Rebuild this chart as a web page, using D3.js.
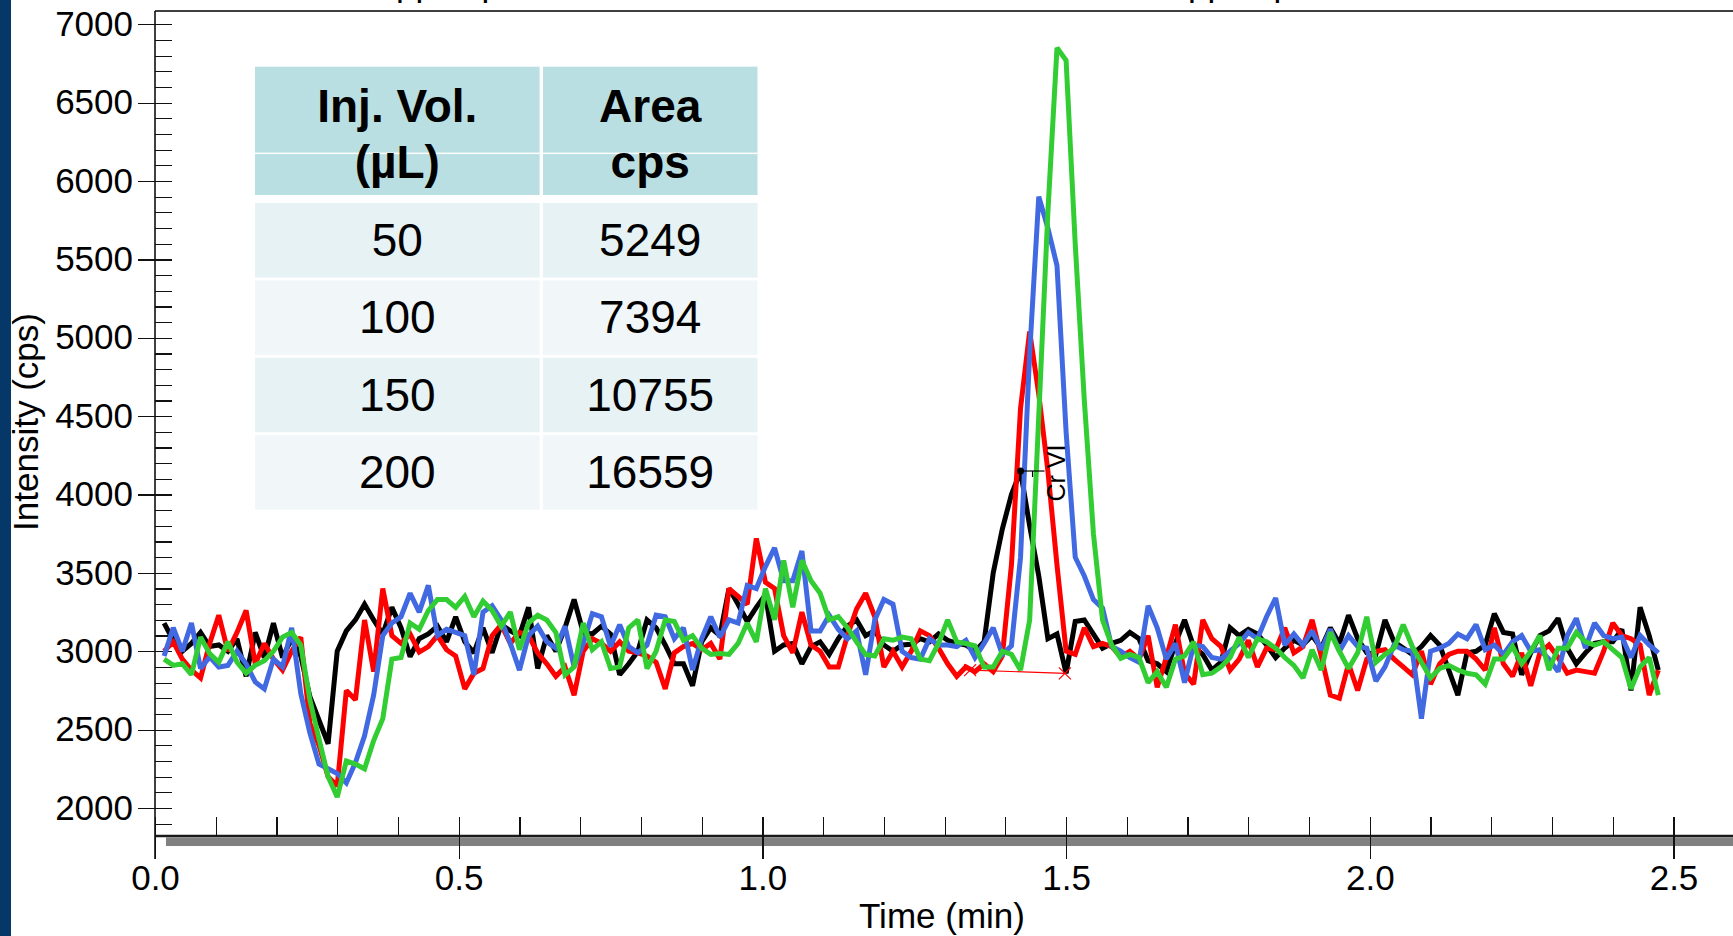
<!DOCTYPE html>
<html>
<head>
<meta charset="utf-8">
<script src="https://cdn.jsdelivr.net/npm/d3@7"></script>
<style>
  html, body { margin: 0; padding: 0; background: #fff; overflow: hidden; }
  svg { display: block; font-family: "Liberation Sans", Arial, sans-serif; }
</style>
</head>
<body>
<div class="chart"></div>
<script>
var svgWidth = 1733;
var svgHeight = 936;

// sampling grid of the chromatogram (min), one point every 0.015 min
var times = d3.range(1, 166).map(function(k) { return +(k * 0.015).toFixed(3); });

// intensity (cps) of each injection volume
var black50 = [
  3180, 3070, 3000, 3050, 3120, 3030, 3040, 3000, 3080, 2840,
  3120, 2960, 3180, 2960, 3080, 2970, 2710, 2560, 2410, 3000,
  3130, 3200, 3300, 3200, 3110, 3280, 3150, 2965, 3080, 3110,
  3160, 3060, 3220, 3060, 2990, 3150, 2990, 3170, 3130, 3100,
  3280, 2890, 3100, 3000, 3150, 3330, 3120, 3110, 3160, 3110,
  2850, 2920, 3000, 3200, 3150, 3040, 2920, 2920, 2780, 3060,
  3150, 3100, 3400, 3300, 3190, 3280, 3360, 3000, 3040, 3050,
  2920, 3030, 3060, 2980, 3080, 3160, 3200, 3100, 3130, 3040,
  3000, 3040, 3045, 3080, 3060, 3110, 3070, 3050, 3040, 3000,
  3060, 3500, 3780, 4000, 4150, 3800, 3480, 3080, 3110, 2860,
  3190, 3200, 3110, 3020, 3050, 3070, 3120, 3080, 2940, 2920,
  2870, 3050, 3200, 3030, 2980, 2880, 2930, 3150, 3100, 3140,
  3110, 3040, 2960, 3020, 3070, 3040, 3100, 3020, 3150, 3050,
  3230, 3080, 2990, 2980, 3200, 3060, 3020, 2980, 3030, 3100,
  3040, 2880, 2720, 2990, 3000, 3040, 3240, 3120, 3110, 2850,
  2990, 3100, 3130, 3210, 3020, 2920, 2990, 3050, 3060, 3060,
  3140, 2750, 3280, 3100, 2880
];
var red100 = [
  3000, 3060, 2950, 2880, 2830, 3050, 3230, 3000, 3120, 3260,
  2920, 3050, 2950, 2880, 3000, 3090, 2540, 2400, 2200, 2140,
  2750, 2690, 3200, 2870, 3400, 3100, 3050, 3110, 2995, 3030,
  3100, 3010, 2970, 2760, 2860, 2890, 3100, 3170, 3050, 3120,
  3100, 2990, 2920, 2840, 2900, 2720, 3000, 3080, 3050, 3000,
  3060, 3000, 2990, 2970, 2930, 2760, 2990, 3030, 3050, 3010,
  3050, 2950, 3400, 3350, 3300, 3720, 3440, 3400, 3100, 2990,
  3250, 3040, 3000, 2900, 2900, 3100, 3270, 3370, 3220, 2900,
  3000, 2900, 3000, 3130, 3100, 3020, 2920, 2840, 2900, 2870,
  2920, 2870, 2970, 3550, 4550, 5040, 4640, 4150, 3550, 3000,
  2980, 3150, 3030, 3050, 3030, 2965, 3000, 2950, 3100, 2770,
  2960, 3170, 2860, 2790, 3200, 3080, 3030, 2880, 2950, 3070,
  2900, 3020, 3010, 3150, 2990, 3030, 3200, 2970, 2720, 2700,
  2920, 2750, 2950, 3000, 3010, 2950, 2900, 2850, 3000, 2790,
  2920, 2980, 3000, 3000, 2950, 2880, 3150, 2920, 2840, 2990,
  2780, 2990, 3040, 2960, 2860, 2880, 2870, 2860, 3000, 3180,
  3100, 3080, 3040, 2720, 2880
];
var blue150 = [
  2970, 3150, 3000, 3180, 2890, 2964, 2900, 2910, 3000, 2920,
  2804, 2760, 2950, 2900, 3150, 2730, 2480, 2280, 2250, 2220,
  2160, 2290, 2460, 2720, 3100, 3180, 3220, 3370, 3250, 3420,
  3100, 3140, 3120, 3100, 2850, 3250, 3290, 3200, 3050, 2880,
  3100, 3160, 3060, 3020, 3160, 2900, 3050, 3240, 3220, 3030,
  3170, 3030, 2990, 3040, 3230, 3220, 3080, 3150, 2880, 3080,
  3220, 3090, 3200, 3180, 3420, 3400, 3540, 3660, 3450, 3450,
  3640, 3130, 3130, 3230, 3140, 3080, 3130, 2850, 3200, 3330,
  3300, 3000, 2960, 2950, 3080, 3040, 3040, 3030, 3070, 2960,
  3050, 3150, 2980, 3035, 3600, 4900, 5900, 5700, 5460, 4400,
  3600, 3480, 3330, 3275, 3030, 3000, 2960, 2930, 3290, 3150,
  2950, 3050, 2800, 3040, 3030, 2960, 2950, 3000, 3050, 3120,
  3080, 3220, 3340, 3040, 3110, 3040, 3130, 3010, 3140, 3000,
  3100, 3030, 3020, 2810, 2900, 3040, 3010, 3000, 2570, 3000,
  3020, 3050, 3110, 3080, 3170, 3010, 3040, 2980, 3060, 3100,
  3000, 3010, 2950, 2870, 3100, 3210, 3020, 3180, 3100, 3080,
  3090, 2960, 3100, 3040, 2990
];
var green200 = [
  2950, 2910, 2920, 2850, 3090, 2985, 2930, 3060, 2930, 2860,
  2910, 2940, 3000, 3090, 3120, 3040, 2690, 2440, 2200, 2070,
  2300, 2280, 2250, 2430, 2570, 2950, 2960, 3180, 3140, 3260,
  3330, 3330, 3280, 3350, 3220, 3320, 3260, 3160, 3250, 3010,
  3180, 3230, 3200, 3120, 2850, 2900, 3180, 3010, 3060, 2890,
  2900, 3150, 3200, 2890, 3000, 3200, 3190, 3070, 3100, 3020,
  2980, 2985, 2980, 3050, 3180, 3060, 3400, 3200, 3580, 3280,
  3580, 3450, 3370, 3200, 3220, 3150, 3060, 2980, 2970, 3080,
  3070, 3090, 3080, 2950, 2940, 3050, 3200, 3060, 3050, 3035,
  2900, 2900, 3000, 2980, 2880, 3200, 4500, 5800, 6850, 6770,
  5600, 4600, 3750, 3200, 3040, 2955, 2980, 2960, 2800, 2870,
  2770, 2950, 2970, 3060, 2850, 2860, 2900, 2960, 3090, 2960,
  3080, 3060, 3020, 2960, 2910, 2830, 3010, 2880, 3120, 3000,
  2890, 2990, 3220, 2930, 2980, 3020, 3170, 3030, 2930, 2830,
  2890, 2910, 2880, 2860, 2850, 2790, 2950, 2950, 3030, 2920,
  3000, 3100, 2880, 3020, 3020, 3120, 3060, 3040, 3060, 3010,
  2960, 2760, 2900, 2960, 2720
];

var seriesValues = [black50, red100, blue150, green200];
var seriesColors = ["#000000", "#ff0000", "#4169e1", "#32cd32"];

var xMajorTicks = [0.0, 0.5, 1.0, 1.5, 2.0, 2.5];
var yMajorTicks = [2000, 2500, 3000, 3500, 4000, 4500, 5000, 5500, 6000, 6500, 7000];

// inset table
var tableHeader = [["Inj. Vol.", "(µL)"], ["Area", "cps"]];
var injVolumes = ["50", "100", "150", "200"];
var peakAreas = ["5249", "7394", "10755", "16559"];

// integration baseline under the Cr VI peak (100 uL run)
var baselineTimes = [1.342, 1.498];
var baselineValues = [2880, 2859];

var svg = d3.select(".chart")
  .append("svg")
  .attr("width", svgWidth)
  .attr("height", svgHeight);

// dark strip on the left edge of the slide
svg.append("rect")
  .attr("x", 0).attr("y", 0)
  .attr("width", 11).attr("height", svgHeight)
  .attr("fill", "#053769");

// title of the slide, almost entirely cut off at the top (as in the original)
svg.append("text").attr("x", 396).attr("y", -4)
  .style("font-size", "35px").text("ppb spike");
svg.append("text").attr("x", 1188).attr("y", -4)
  .style("font-size", "35px").text("ppb spike");

var xScale = d3.scaleLinear().domain([0, 2.5]).range([155, 1673.5]);
var yScale = d3.scaleLinear().domain([2000, 7000]).range([808, 24.3]);

// frame: top line, y axis, x axis and the grey bar under it
svg.append("line")
  .attr("x1", 155).attr("x2", svgWidth).attr("y1", 11).attr("y2", 11)
  .attr("stroke", "#000").attr("stroke-width", 1.5);
svg.append("line")
  .attr("x1", 155).attr("x2", 155).attr("y1", 11).attr("y2", 859)
  .attr("stroke", "#000").attr("stroke-width", 1.5);
svg.append("rect")
  .attr("x", 166).attr("y", 837.5)
  .attr("width", svgWidth - 166).attr("height", 8.5)
  .attr("fill", "#808080");
svg.append("line")
  .attr("x1", 155).attr("x2", svgWidth).attr("y1", 836).attr("y2", 836)
  .attr("stroke", "#1a1a1a").attr("stroke-width", 2.5);

// y ticks: major ticks cross the axis, minor ticks only inside
var leftAxis = d3.axisLeft(yScale)
  .tickValues(yMajorTicks)
  .tickSize(17)
  .tickPadding(5)
  .tickFormat(d3.format("d"));
var yOut = svg.append("g")
  .attr("transform", "translate(155,0)")
  .call(leftAxis);
var yIn = svg.append("g")
  .attr("transform", "translate(155,0)")
  .call(d3.axisRight(yScale).tickValues(d3.range(1900, 7001, 100)).tickSize(17).tickFormat(""));

// x ticks: minor ticks above the axis, major ticks below with labels
var xIn = svg.append("g")
  .attr("transform", "translate(0,836)")
  .call(d3.axisTop(xScale).tickValues(d3.range(0, 2.51, 0.1)).tickSize(19).tickFormat(""));
var xOut = svg.append("g")
  .attr("transform", "translate(0,836)")
  .call(d3.axisBottom(xScale).tickValues(xMajorTicks).tickSize(23).tickPadding(6).tickFormat(d3.format(".1f")));

[yOut, yIn, xIn, xOut].forEach(function(g) {
  g.select(".domain").remove();
  g.selectAll(".tick line").attr("stroke", "#111").attr("stroke-width", 1.2).attr("shape-rendering", "crispEdges");
  g.selectAll("text")
    .style("font-family", "'Liberation Sans', Arial, sans-serif")
    .style("font-size", "35px")
    .attr("fill", "#000");
});

// axis titles
svg.append("text")
  .attr("transform", "translate(38,422) rotate(-90)")
  .attr("text-anchor", "middle")
  .style("font-size", "35px")
  .text("Intensity (cps)");
svg.append("text")
  .attr("x", 942).attr("y", 928)
  .attr("text-anchor", "middle")
  .style("font-size", "35px")
  .text("Time (min)");

// chromatogram traces
var line = d3.line()
  .x(function(d) { return xScale(d.t); })
  .y(function(d) { return yScale(d.v); });

seriesValues.forEach(function(values, i) {
  var points = values.map(function(v, j) { return { t: times[j], v: v }; });
  svg.append("path")
    .datum(points)
    .attr("d", line)
    .attr("fill", "none")
    .attr("stroke", seriesColors[i])
    .attr("stroke-width", 5)
    .attr("stroke-linejoin", "miter")
    .attr("stroke-miterlimit", 2);
});

// integration baseline with its two end markers
svg.append("line")
  .attr("x1", xScale(baselineTimes[0])).attr("y1", yScale(baselineValues[0]))
  .attr("x2", xScale(baselineTimes[1])).attr("y2", yScale(baselineValues[1]))
  .attr("stroke", "#ff0000").attr("stroke-width", 1.2);
baselineTimes.forEach(function(t, i) {
  var cx = xScale(t), cy = yScale(baselineValues[i]);
  svg.append("path")
    .attr("d", "M" + (cx - 6) + "," + (cy - 6) + "L" + (cx + 6) + "," + (cy + 6) +
               "M" + (cx - 6) + "," + (cy + 6) + "L" + (cx + 6) + "," + (cy - 6))
    .attr("stroke", "#ff0000").attr("stroke-width", 1.2);
});

// peak label on the 50 uL trace
var peakIndex = d3.maxIndex(black50);
var px = xScale(times[peakIndex]);
var py = yScale(black50[peakIndex]);
svg.append("circle").attr("cx", px).attr("cy", py).attr("r", 3.5).attr("fill", "#000");
svg.append("line")
  .attr("x1", px).attr("x2", px + 24).attr("y1", py).attr("y2", py)
  .attr("stroke", "#000").attr("stroke-width", 1.2);
svg.append("line")
  .attr("x1", px + 12).attr("x2", px + 12).attr("y1", py).attr("y2", py + 6)
  .attr("stroke", "#000").attr("stroke-width", 1.2);
svg.append("text")
  .attr("transform", "translate(" + (px + 44) + "," + (py + 2) + ") rotate(-90)")
  .attr("text-anchor", "middle")
  .style("font-size", "25px")
  .text("Cr VI");

// inset table
var table = svg.append("g");
var colX = [255, 543];
var colW = [284.6, 214.5];
var rowColors = ["#e6f2f4", "#f1f7f9"];

colX.forEach(function(cx, i) {
  table.append("rect")
    .attr("x", cx).attr("y", 66.7)
    .attr("width", colW[i]).attr("height", 128.3)
    .attr("fill", "#b9dfe3");
  table.append("rect")
    .attr("x", cx).attr("y", 152.6)
    .attr("width", colW[i]).attr("height", 1.5)
    .attr("fill", "#ffffff");
  tableHeader[i].forEach(function(label, j) {
    table.append("text")
      .attr("x", cx + colW[i] / 2)
      .attr("y", j === 0 ? 121.5 : 178)
      .attr("text-anchor", "middle")
      .style("font-size", "46px")
      .style("font-weight", "bold")
      .text(label);
  });
});

injVolumes.forEach(function(vol, r) {
  var top = 203 + r * 77.4;
  [vol, peakAreas[r]].forEach(function(label, i) {
    table.append("rect")
      .attr("x", colX[i]).attr("y", top)
      .attr("width", colW[i]).attr("height", 74.5)
      .attr("fill", rowColors[r % 2]);
    table.append("text")
      .attr("x", colX[i] + colW[i] / 2)
      .attr("y", top + 53)
      .attr("text-anchor", "middle")
      .style("font-size", "46px")
      .text(label);
  });
});
</script>
</body>
</html>
